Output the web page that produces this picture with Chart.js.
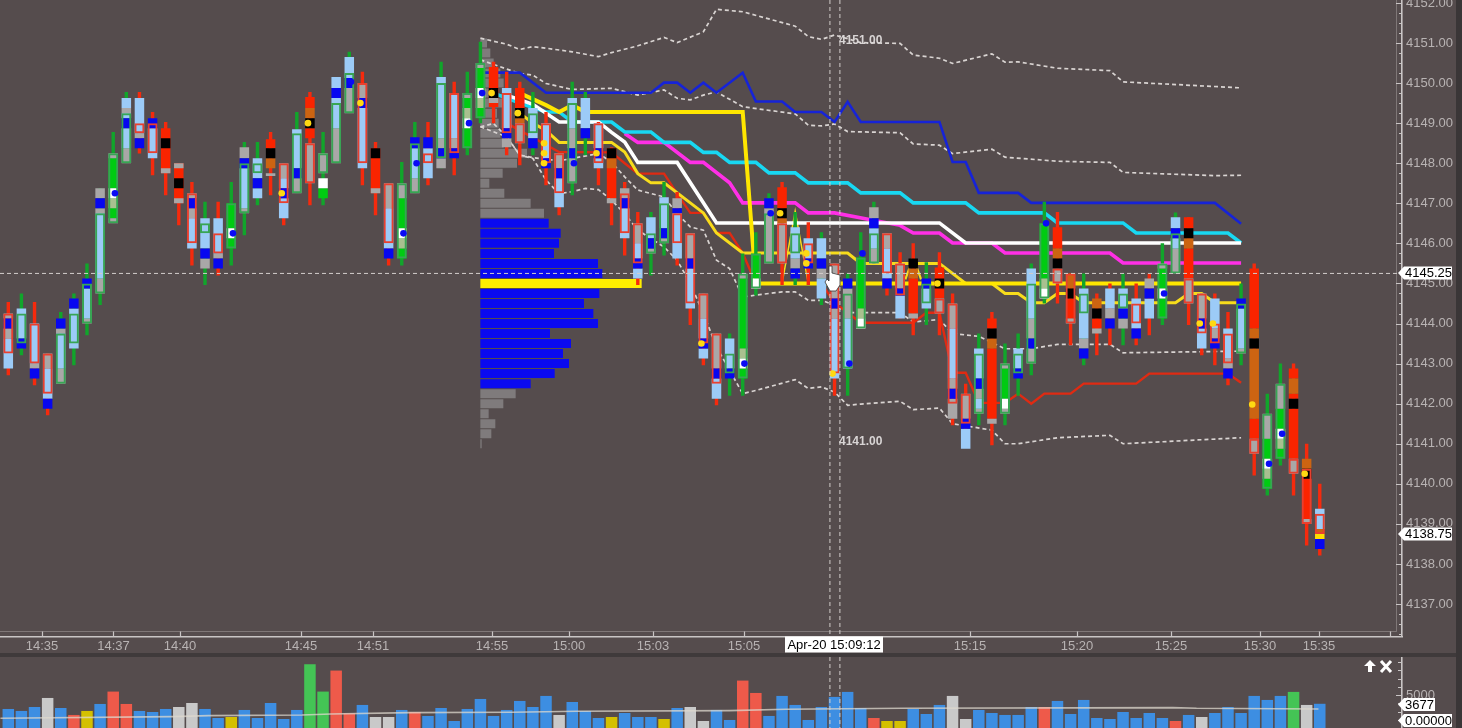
<!DOCTYPE html>
<html><head><meta charset="utf-8">
<style>
html,body{margin:0;padding:0;width:1462px;height:728px;overflow:hidden;background:#554c4d}
#p{position:absolute;left:0;top:0}
#v{position:absolute;left:0;top:657px}
#sep{position:absolute;left:0;top:653px;width:1462px;height:4px;background:#3f3a3b}
#edge{position:absolute;left:1456px;top:0;width:6px;height:728px;background:#3a3637}
</style>
<script src="https://cdn.jsdelivr.net/npm/chart.js@4"></script>
</head><body>
<canvas id="p" width="1462" height="653"></canvas>
<div id="sep"></div>
<canvas id="v" width="1462" height="71"></canvas>
<div id="edge"></div>
<script>
const priceTicks=[4137,4138,4139,4140,4141,4142,4143,4144,4145,4146,4147,4148,4149,4150,4151,4152];
const timeTickIndex=[2.57,8.02,13.09,22.32,27.81,36.88,42.75,49.16,56.1,73.33,81.49,88.65,95.44,99.94,105.36];
const timeTickLabels=['14:35','14:37','14:40','14:45','14:51','14:55','15:00','15:03','15:05','15:15','15:20','15:25','15:30','15:35',''];
const candleDir=('RGRRGGGGGG'+'RRRRRGRGGG'+'RRGRGGGRRR'+'GGRGRGGRRR'+'GRRGGRRRRG'+'GRRRRGGGGR'+'GRGRGGGRRR'+'GRRRGRGGGG'+'RRGRRGRRGG'+'RRRRGRGGRRR').split('');
const wickHigh=[4144.54,4144.75,4144.54,4143.25,4144.29,4144.75,4145.5,4147.375,4148.78,4149.78,
4149.78,4149.28,4149.03,4148,4147.53,4147.04,4147.04,4147.53,4148.53,4148.53,
4148.78,4148,4149.28,4149.78,4148.78,4150.15,4150.78,4150.28,4148.53,4147.5,
4148.03,4149.03,4149.03,4150.53,4150.03,4150.28,4151.03,4150.53,4150.28,4150.03,
4149.78,4149.28,4148.25,4150.03,4149.78,4149.03,4148.4,4147.53,4146.78,4146.78,
4147.53,4147.28,4146.25,4144.75,4143.75,4143.75,4145.75,4146.28,4147.25,4147.53,
4146.78,4146.53,4146.28,4145.5,4145.25,4146.28,4147.04,4146.25,4145.78,4146,
4145.53,4145.78,4144.75,4142.5,4143.75,4144.29,4143.5,4143.75,4145.5,4147.04,
4146.78,4145.25,4145.25,4144.75,4145,4145.25,4145,4145.25,4146,4146.77,
4146.65,4144.75,4144.75,4144.29,4145,4145.5,4142.25,4143,4143,4141,4140];
const wickLow=[4142.71,4143.21,4142.46,4141.71,4142.5,4142.96,4143.71,4144.46,4146.5,4148,
4148.24,4147.7,4147.2,4146.45,4145.45,4144.96,4145.2,4145.45,4146.2,4146.95,
4147.2,4146.45,4147.25,4146.95,4146.95,4148,4149.25,4147.45,4146.7,4145.45,
4145.45,4147.25,4147.45,4147.875,4147.7,4148.2,4149,4149,4148.2,4147.95,
4148.2,4147.45,4146.7,4147.2,4148.2,4147.45,4146.45,4145.7,4144.96,4145.2,
4145.7,4145.45,4143.96,4142.96,4141.96,4142.2,4142.2,4144.7,4145.5,4144.96,
4144.96,4144.96,4144.46,4142.2,4142.2,4143.875,4145.5,4144.7,4144.125,4143.71,
4143.96,4143.71,4141.46,4140.9,4141.46,4140.96,4141.46,4142.2,4142.71,4144.5,
4144.5,4143.46,4142.96,4143.21,4143.46,4143.46,4143.46,4143.71,4143.96,4145.25,
4143.96,4143.21,4142.96,4142.46,4142.96,4140.21,4139.71,4140.46,4139.71,4138.46,4138.21];
const lightBlueBlocks=[[0,4143.625,4142.875],[1,4144.375,4143.625],[2,4144,4143],[3,4142.875,4142.125],[4,4143.75,4142.875],[5,4144.375,4143.375],[6,4144.875,4144.125],[7,4146.75,4145.125],[9,4149.625,4149.375],[9,4149.25,4149.125],[9,4148.875,4148.375],[10,4149.625,4148.75],[11,4148.875,4148.125],[14,4146.625,4145.875],[15,4146.625,4145.875],[16,4146.625,4145.75],[18,4147.875,4146.875],[19,4148.125,4147.625],[19,4147.375,4147.125],[21,4147.625,4147.375],[21,4147.125,4146.625],[22,4148.85,4147.875],[25,4150.15,4149.875],[25,4149.625,4148.875],[26,4150.65,4150.125],[27,4149.375,4147.875],[29,4146.875,4145.875],[31,4148.375,4147.625],[32,4148.375,4147.625],[33,4150.15,4148.625],[34,4149.75,4148.625],[38,4149.875,4148.875],[40,4149.375,4148.625],[41,4149,4148.125],[42,4147.625,4146.9],[43,4149.625,4148.875],[44,4149.625,4148.875],[45,4149,4148.375],[45,4148.125,4147.875],[47,4146.875,4146.125],[48,4146,4145.625],[48,4145.375,4145.125],[49,4146.65,4146.125],[50,4147.15,4146.375],[51,4146.75,4145.625],[52,4145.375,4144.375],[53,4144.125,4143.625],[53,4143.375,4143.125],[54,4142.625,4142.125],[55,4143.625,4142.875],[60,4146.4,4145.625],[61,4146.125,4145.625],[62,4146.125,4145.625],[62,4145.125,4144.625],[63,4144.125,4142.625],[64,4144.125,4142.875],[66,4146.375,4145.875],[67,4145.875,4145.125],[68,4144.7,4144.125],[70,4144.875,4144.375],[72,4143.875,4142.625],[73,4141.375,4140.875],[74,4143.375,4142.625],[74,4142.125,4141.875],[77,4143.375,4142.875],[78,4145.375,4144.125],[82,4144.875,4143.625],[84,4144.875,4144.375],[85,4144.875,4144.375],[86,4144.625,4143.875],[87,4144.625,4144.125],[89,4146.65,4146.375],[89,4146.125,4145.875],[91,4143.875,4143.375],[92,4144.625,4143.875],[93,4143.875,4143.125],[94,4144.375,4143.375],[100,4139.375,4138.875]];
const grayBlocks=[[0,4144.25,4144.125],[0,4143.875,4143.625],[2,4143,4142.875],[3,4143.25,4142.875],[4,4143.875,4143.75],[4,4142.875,4142.5],[6,4144.125,4144],[7,4147.375,4147.125],[7,4146.875,4146.75],[7,4145.125,4144.75],[8,4148.25,4148.125],[8,4146.625,4146.5],[9,4149.375,4149.25],[9,4148.375,4148],[10,4148.75,4148.625],[12,4147.875,4147.75],[13,4148,4147.875],[13,4147.125,4147],[14,4147.25,4147.125],[14,4146.875,4146.625],[15,4145.625,4145.375],[16,4145.75,4145.625],[18,4148.4,4148.125],[18,4146.875,4146.75],[20,4147.75,4147.68],[21,4148,4147.625],[22,4147.625,4147.25],[23,4148.5,4147.5],[24,4148.25,4147.75],[25,4148.875,4148],[26,4149.875,4149.25],[27,4150,4149.625],[28,4147.375,4147.25],[29,4147.5,4146.875],[30,4147.5,4147.125],[31,4147.625,4147.25],[33,4148.625,4148.375],[33,4148.125,4147.875],[34,4148.625,4148.375],[35,4149.75,4149.625],[36,4150.5,4150.375],[37,4149.625,4149.5],[38,4148.625,4148.4],[39,4149,4148.5],[42,4148.25,4147.875],[43,4148.875,4148.375],[43,4148.125,4147.5],[46,4147.125,4147],[47,4147.375,4147.125],[48,4146.5,4146],[49,4145.875,4145.75],[50,4146.125,4146],[51,4147.125,4146.875],[52,4146.25,4145.625],[53,4144.75,4144.125],[54,4143.75,4142.875],[56,4145.25,4145.125],[58,4146.875,4145.5],[59,4146.5,4145.5],[60,4145.625,4145.375],[62,4145.375,4145.125],[63,4145.5,4144.625],[63,4144.375,4144.125],[64,4144.875,4144.125],[66,4146.9,4146.625],[66,4145.875,4145.5],[67,4146.25,4145.875],[68,4145.5,4144.875],[69,4144.25,4144.125],[71,4144.625,4144.25],[72,4144.5,4143.875],[72,4142.625,4142.375],[72,4142.125,4141.625],[73,4142.25,4141.625],[74,4142.375,4142.125],[74,4141.875,4141.75],[75,4141.625,4141.5],[76,4143,4142.875],[76,4141.875,4141.75],[78,4144.125,4143.625],[78,4143.375,4143],[80,4145.375,4145],[81,4144.125,4144],[82,4143.625,4143.375],[83,4143.875,4143.75],[84,4144.375,4144.125],[85,4144.125,4143.875],[87,4145.125,4144.875],[88,4145.5,4145.375],[89,4145.875,4145.25],[90,4145.125,4144.5],[91,4144.75,4144.125],[92,4143.875,4143.625],[93,4143.125,4142.875],[94,4143.375,4143.25],[95,4141.125,4140.75],[96,4141.75,4141.125],[97,4142.5,4141.875],[98,4140.625,4140.25],[99,4139.125,4139]];
const blueBlocks=[[0,4144.125,4143.875],[1,4143.625,4143.375],[2,4142.875,4142.625],[3,4142.125,4141.875],[4,4144.125,4143.875],[5,4144.625,4144.375],[6,4145.125,4144.875],[7,4147.125,4146.875],[9,4149.125,4148.875],[10,4148.625,4148.375],[11,4149.125,4148.875],[14,4147.125,4146.875],[15,4145.875,4145.625],[16,4145.625,4145.375],[18,4148.125,4147.875],[19,4147.625,4147.375],[21,4147.375,4147.125],[22,4147.875,4147.625],[25,4149.875,4149.625],[26,4150.125,4149.875],[27,4149.625,4149.375],[29,4145.875,4145.625],[31,4148.65,4148.375],[32,4148.65,4148.375],[33,4148.375,4148.125],[34,4148.375,4148.125],[38,4148.875,4148.625],[40,4148.625,4148.375],[41,4148.125,4147.875],[42,4147.875,4147.625],[43,4148.375,4148.125],[44,4148.875,4148.625],[45,4148.375,4148.125],[47,4147.125,4146.875],[48,4145.625,4145.375],[49,4146.125,4145.875],[50,4146.375,4146.125],[51,4146.875,4146.75],[52,4145.625,4145.375],[53,4143.625,4143.375],[54,4142.875,4142.625],[55,4142.875,4142.625],[58,4147.125,4146.875],[60,4145.375,4145.125],[61,4145.625,4145.375],[62,4145.625,4145.375],[63,4144.625,4144.375],[64,4145.125,4144.875],[66,4146.625,4146.375],[67,4145.125,4144.875],[68,4144.875,4144.7],[70,4145.125,4144.875],[72,4142.375,4142.125],[73,4141.625,4141.375],[74,4142.625,4142.375],[77,4142.875,4142.625],[78,4143.625,4143.375],[82,4143.375,4143.125],[84,4144.125,4143.875],[85,4144.375,4144.125],[86,4143.875,4143.625],[87,4144.875,4144.625],[89,4146.375,4146.125],[91,4144.125,4143.875],[92,4143.625,4143.375],[93,4142.875,4142.625],[94,4144.625,4144.375],[100,4138.625,4138.375]];
const blackBlocks=[[12,4148.625,4148.375],[13,4147.625,4147.375],[20,4148.375,4148.125],[23,4149.125,4148.875],[28,4148.375,4148.125],[37,4149.875,4149.625],[39,4149.375,4149.125],[46,4148.375,4148.125],[59,4146.875,4146.625],[69,4145.625,4145.375],[71,4145.125,4144.875],[75,4143.875,4143.625],[80,4145.625,4145.375],[81,4144.875,4144.625],[83,4144.375,4144.125],[90,4146.375,4146.125],[95,4143.625,4143.375],[98,4142.125,4141.875],[99,4140.375,4140.125]];
const greenBlocks=[[8,4148.125,4147.375],[8,4146.875,4146.625],[17,4147,4146.375],[17,4146.125,4145.875],[24,4147.375,4147.125],[30,4147.125,4146.375],[30,4145.875,4145.625],[35,4149.625,4149.375],[35,4148.875,4148.375],[36,4150.375,4149.875],[36,4149.375,4149.125],[56,4145.125,4143.375],[56,4142.875,4142.625],[57,4145.75,4145.125],[65,4145.65,4144.375],[76,4142.875,4142.125],[79,4146.5,4145.125],[88,4145.375,4144.875],[88,4144.625,4144.125],[96,4141.125,4140.625],[96,4140.125,4139.875],[97,4141.875,4141.375],[97,4140.875,4140.625]];
const redBlocks=[[12,4148.875,4147.75],[13,4148,4147],[20,4148.6,4148.375],[23,4149.65,4149.375],[23,4148.875,4148.625],[28,4148.375,4147.25],[37,4150.4,4149.4],[39,4149.875,4149.375],[46,4148.375,4147.125],[59,4147.4,4146.875],[69,4145.125,4144.25],[71,4145.4,4144.625],[75,4144.125,4143.875],[75,4143.375,4141.625],[80,4146.4,4145.875],[81,4144.625,4144.125],[83,4144.125,4143.875],[90,4146.65,4146.375],[90,4145.875,4145.125],[95,4145.375,4143.875],[95,4141.625,4141.125],[98,4142.875,4142.625],[98,4142.25,4142.125],[98,4141.875,4140.625],[99,4140.125,4139.125]];
const orangeBlocks=[[20,4148.125,4147.875],[23,4149.375,4149.125],[39,4149.125,4149],[46,4148.125,4147.875],[59,4146.625,4146.5],[69,4145.375,4145.125],[75,4143.625,4143.375],[80,4145.875,4145.625],[81,4145.25,4144.875],[83,4144.625,4144.375],[90,4146.125,4145.875],[95,4143.875,4143.625],[95,4143.375,4141.625],[98,4142.625,4142.25],[99,4140.625,4140.375],[100,4138.875,4138.75]];
const yellowBlocks=[[100,4138.75,4138.625]];
const whiteBlocks=[[8,4147.375,4147.125],[17,4146.375,4146.125],[24,4147.625,4147.375],[30,4146.375,4146.125],[35,4149.125,4148.875],[36,4149.875,4149.625],[56,4143.125,4142.875],[57,4145.125,4144.875],[65,4144.125,4143.875],[76,4142.125,4141.875],[79,4144.875,4144.625],[88,4144.875,4144.625],[96,4140.625,4140.375],[97,4141.375,4141.125]];
const tanBlocks=[[8,4147.125,4146.875],[30,4146.125,4145.875],[35,4149.375,4149.125],[36,4149.625,4149.375],[56,4143.375,4143.125],[65,4144.375,4144.125],[79,4145.125,4144.875],[96,4140.375,4140.125],[97,4141.125,4140.875]];
const bodyOutlines=[[0,4144.25,4143.25],[1,4144.25,4143.5],[2,4144,4143],[3,4143.25,4142.25],[4,4143.75,4142.5],[5,4144.25,4143.5],[6,4145,4144],[7,4146.75,4144.75],[8,4148.25,4146.5],[9,4149.25,4148],[10,4149,4148.75],[11,4149,4148.25],[14,4147.25,4146],[15,4146.5,4146.25],[16,4146.25,4145.75],[17,4147,4145.875],[18,4148,4146.75],[19,4148,4147.75],[21,4148,4147],[22,4148.75,4147.25],[23,4148.5,4147.5],[24,4148.25,4147.75],[25,4149.5,4148],[26,4150.25,4149.25],[27,4150,4148],[29,4147.5,4146],[30,4147.5,4145.625],[31,4148.5,4147.25],[32,4148.25,4148],[33,4150,4148.125],[34,4149.75,4148.25],[35,4149.75,4148.375],[36,4150.5,4149.125],[38,4149.75,4148.75],[39,4149,4148.5],[40,4149.25,4148.75],[41,4149,4148],[42,4148.25,4147.25],[43,4149.5,4147.5],[45,4149,4148],[47,4147.25,4146.25],[48,4146.5,4145.5],[49,4146.25,4145.75],[50,4147,4146],[51,4146.75,4146],[52,4146.25,4144.5],[53,4144.75,4143.5],[54,4143.75,4142.5],[55,4143.25,4142.75],[56,4145.25,4142.625],[57,4145.75,4144.875],[58,4146.75,4145.5],[59,4146.5,4145.5],[60,4146.25,4145.75],[61,4146,4145.5],[63,4145.5,4142.75],[64,4144.75,4142.875],[65,4145.65,4143.875],[66,4146.25,4145.5],[67,4146.25,4145.25],[68,4145.5,4144.7],[70,4145,4144.5],[71,4144.625,4144.25],[72,4144.5,4142],[73,4142.25,4141.5],[74,4143.25,4141.75],[76,4143,4141.75],[77,4143.25,4142.75],[78,4145,4143],[79,4146.5,4144.625],[80,4145.375,4145],[81,4145.25,4144],[82,4144.75,4144.25],[85,4144.75,4144.375],[86,4144.5,4144],[88,4145.5,4144.125],[89,4146.25,4145.25],[90,4145.125,4144.5],[91,4144.75,4143.75],[92,4144,4143.5],[93,4143.75,4143],[94,4144.5,4143.25],[95,4141.125,4140.75],[96,4141.75,4139.875],[97,4142.5,4140.625],[98,4140.625,4140.25],[99,4140.375,4139],[100,4139.25,4138.75]];
const blueDots=[[8,4147.25],[17,4146.25],[26,4150.03],[30,4146.25],[31,4148],[35,4149],[36,4149.75],[43,4148],[56,4143],[58,4146.75],[64,4143],[65,4145.75],[79,4146.5],[88,4144.75],[96,4140.5],[97,4141.25]];
const yellowDots=[[21,4147.25],[23,4149],[27,4149.5],[37,4149.75],[39,4149.25],[41,4148.5],[41,4148.25],[41,4148],[45,4148.25],[53,4143.5],[59,4146.75],[61,4145.75],[61,4145.5],[63,4142.75],[71,4145],[91,4144],[92,4144],[95,4141.98],[99,4140.25]];
const lineBlue=[[36.3,4150.26],[39,4150.26],[41,4149.76],[49,4149.76],[50,4150.01],[51,4150.01],[52,4149.76],[53,4150.01],[54,4149.76],[56,4150.26],[57,4149.54],[59,4149.54],[60,4149.28],[62,4149.28],[63,4149.03],[64,4149.53],[65,4149.03],[71,4149.03],[72,4148.03],[73,4148.03],[74,4147.26],[77,4147.26],[78,4147.01],[92,4147.01],[94,4146.49]];
const lineCyan=[[37,4149.75],[39,4149.5],[41,4149.28],[42,4149.28],[43,4149.03],[46,4149.03],[47,4148.78],[49,4148.78],[50,4148.52],[52,4148.52],[53,4148.27],[54,4148.27],[55,4148.02],[57,4148.02],[58,4147.76],[60,4147.76],[61,4147.51],[64,4147.51],[65,4147.26],[68,4147.26],[69,4147.01],[73,4147.01],[74,4146.76],[79,4146.76],[80,4146.51],[85,4146.51],[86,4146.26],[93,4146.26],[94,4146.01]];
const lineMagenta=[[47,4148.74],[48,4148.52],[50,4148.52],[52,4148.02],[53,4148.02],[55,4147.51],[56,4147.01],[60,4147.01],[61,4146.76],[63,4146.76],[68,4146.45],[69,4146.26],[71,4146.26],[72,4146.01],[75,4146.01],[76,4145.76],[84,4145.76],[85,4145.51],[94,4145.51]];
const lineWhite=[[38,4149.7],[40,4149.47],[42,4149.03],[45,4149.03],[46,4148.77],[47,4148.53],[48,4148.02],[51,4148.02],[54,4146.51],[71,4146.51],[73,4146.01],[94,4146.01]];
const linePivot=[[39,4149.75],[41,4149.45],[42,4149.28],[43,4149.45],[44,4149.28],[56,4149.28],[57,4145],[94,4145]];
const lineYellow=[[39,4149.25],[40,4149],[41,4148.82],[42,4148.52],[46,4148.52],[47,4148.28],[48,4147.74],[49,4147.51],[50,4147.51],[52,4147.01],[53,4146.76],[54,4146.26],[56,4145.76],[64,4145.76],[65,4145.5],[71,4145.5],[73,4145],[75,4145],[76,4144.75],[77,4144.75],[78,4144.52],[79,4144.52],[80,4144.75],[81,4144.75],[82,4144.52],[89,4144.52],[90,4144.75],[91,4144.75],[92,4144.52],[94,4144.52]];
const lineYellowSpike=[[59,4145],[60,4146.8],[61,4145]];
const lineYellowArc=[[68.4,4145.1],[69,4145.65],[69.6,4145.1]];
const lineRed=[[38,4149],[42,4148.28],[46,4148.27],[47,4148],[48,4147.74],[50,4147.74],[51,4147.24],[52,4146.76],[53,4146.76],[54,4146.26],[55,4146.26],[56,4145.76],[57,4145],[62,4145],[63,4144.52],[65,4144.02],[69,4144.02],[70,4144.27],[71,4144.27],[72,4142.77],[73,4142.77],[74,4142.02],[76,4142.02],[77,4142.25],[78,4142],[79,4142.25],[81,4142.25],[82,4142.5],[86,4142.5],[87,4142.75],[93,4142.75],[94,4142.52]];
const bandUpperOuter=[[36,4151.12],[38,4150.97],[39,4150.84],[40,4150.91],[41,4150.87],[43,4150.78],[45,4150.66],[46,4150.76],[48,4150.93],[50,4151.14],[51,4151.01],[53,4151.28],[54,4151.84],[56,4151.78],[60,4151.42],[61,4151.16],[62,4151.09],[63,4151.2],[65,4151.01],[68,4150.99],[69,4150.7],[71,4150.62],[72,4150.49],[75,4150.73],[76,4150.52],[77,4150.53],[80,4150.37],[84,4150.31],[85,4150.03],[94,4149.88]];
const bandUpperInner=[[36,4150.58],[38,4150.35],[39,4150.24],[40,4150.2],[41,4149.99],[43,4149.84],[46,4149.87],[48,4149.7],[50,4149.83],[51,4149.62],[52,4149.58],[53,4149.7],[54,4149.78],[56,4149.41],[60,4149.23],[61,4148.95],[62,4148.93],[63,4148.98],[64,4148.79],[68,4148.76],[69,4148.48],[71,4148.45],[72,4148.24],[75,4148.35],[76,4148.15],[80,4148.05],[84,4148.02],[85,4147.77],[92,4147.69],[94,4147.7]];
const bandLowerInner=[[36,4148.91],[37,4148.99],[38,4148.66],[39,4148.2],[40,4148.14],[42,4148.06],[43,4148.12],[45,4148.24],[46,4148.03],[47,4147.66],[48,4147.33],[50,4147.16],[51,4146.74],[52,4146.41],[53,4146.33],[54,4145.58],[55,4145.37],[56,4144.66],[57,4144.71],[59,4144.79],[60,4144.79],[61,4144.58],[62,4144.58],[63,4144.46],[64,4144.27],[68,4144.27],[69,4144.04],[71,4144.1],[72,4143.75],[74,4143.68],[76,4143.37],[78,4143.37],[80,4143.48],[84,4143.48],[85,4143.27],[94,4143.31]];
const bandLowerOuter=[[36,4148.91],[38,4148.66],[39,4148.2],[40,4148.12],[41,4147.58],[42,4147.24],[43,4147.29],[44,4147.37],[45,4147.34],[46,4147.08],[47,4146.74],[48,4146.33],[49,4146.12],[50,4145.91],[51,4145.58],[52,4145],[53,4144.25],[54,4143.42],[55,4142.83],[56,4142.25],[57,4142.33],[60,4142.6],[61,4142.38],[62,4142.42],[63,4142.29],[64,4141.96],[65,4141.99],[68,4142.06],[69,4141.85],[71,4141.89],[72,4141.5],[75,4141.34],[76,4141],[77,4141],[80,4141.15],[84,4141.21],[85,4141],[94,4141.15]];
const profileGray=[[4151,20],[4150.75,30],[4150.5,40],[4150.25,60],[4150,70],[4149.75,55],[4149.5,65],[4149.25,50],[4149,55],[4148.75,60],[4148.5,70],[4148.25,140],[4148,110],[4147.75,67],[4147.5,27],[4147.25,72],[4147,151],[4146.75,191],[4142.25,106],[4142,69],[4141.75,25],[4141.5,45],[4141.25,33],[4141,4]];
const profileBlue=[[4146.5,205],[4146.25,241],[4146,236],[4145.75,221],[4145.5,353],[4145.25,366],[4144.75,357],[4144.5,311],[4144.25,339],[4144,353],[4143.75,209],[4143.5,272],[4143.25,248],[4143,266],[4142.75,223],[4142.5,151]];
const profilePoc=[[4145,484]];
const volumes=[2890,2590,3190,4560,3040,1980,2590,3650,5530,3650,2590,2430,2890,3190,3800,2890,1520,1670,2740,1520,3800,1370,2740,9680,5530,8720,2230,3500,1670,1670,2740,2430,1830,3040,1060,2890,4410,1830,2740,4110,3190,4870,1980,3950,2590,1520,1670,2280,1670,1670,1370,3040,3190,1060,2740,1220,7200,5320,1830,4870,3500,1220,3190,4720,5480,3040,1520,1060,1060,2890,2130,3500,4870,1370,2740,2280,1980,1980,3190,3190,4110,2130,4260,1520,1370,2430,1520,2280,1520,1060,1980,1670,2280,3190,2280,4870,4260,4870,5480,3500,3677];
const volumeKind=('BBBGBRYBRR'+'BBBGGBBYBB'+'BBBLLRRBGG'+'BRBBBBBBBB'+'BBGBBBYBBB'+'YBGGBBRRBB'+'BBBBBBRYYB'+'BBGGBBBBBR'+'BBBBBBBBBR'+'BGBBBBBBLGB').split('');
const volumeAverage=[[-0.6,1470],[12.5,1720],[15.3,1880],[22.4,1980],[24.6,2130],[30.6,2330],[38.4,2380],[43.4,2540],[55,2640],[59.3,2840],[68.2,2990],[88.8,3090],[90.6,2990],[99.9,2890]];
const crossIndex=[62.65,63.41];
const crossPrice=4145.25, lastPrice=4138.75, lastVolume=3677;

const LF='"Liberation Sans", Arial, sans-serif';
const xMin=-0.633,xMax=106.27;
const noPad=s=>{s.paddingTop=0;s.paddingBottom=0;s.paddingLeft=0;s.paddingRight=0;};
const block=(list,color,order,w)=>({type:'bar',label:'',data:list.map(r=>({x:r[0],y:[r[2],r[1]]})),backgroundColor:color,borderWidth:0,barThickness:w||9.5,grouped:false,inflateAmount:0,order});
const path=(list,color,width,order,dash)=>({type:'line',label:'',data:list.map(r=>({x:r[0],y:r[1]})),borderColor:color,borderWidth:width,borderDash:dash||[],pointRadius:0,tension:0,fill:false,order,borderJoinStyle:'miter'});
const dots=(list,color,dx)=>({type:'line',label:'',data:list.map(r=>({x:r[0]+dx,y:r[1]})),showLine:false,pointRadius:3.3,pointBackgroundColor:color,pointBorderWidth:0,order:1});
const prof=(list,color)=>({type:'bar',label:'',indexAxis:'y',xAxisID:'xp',data:list.map(r=>({y:r[0],x:r[1]})),backgroundColor:color,borderWidth:0,barThickness:9,grouped:false,inflateAmount:0,order:100});

const RED='#f52a0d',GRN='#11a52b';
const dsPrice=[
 prof(profileGray,'#7f7b7c'),prof(profileBlue,'#0a0af0'),prof(profilePoc,'#ffee00'),
 path(bandUpperOuter,'#d9d4d2',1.7,90,[4,3]),path(bandUpperInner,'#d9d4d2',1.7,90,[4,3]),
 path(bandLowerInner,'#d9d4d2',1.7,90,[4,3]),path(bandLowerOuter,'#d9d4d2',1.7,90,[4,3]),
 path(lineRed,'#e02a12',2.4,80),path(lineYellowSpike,'#f7dc1c',1.5,79),path(lineYellowArc,'#f7dc1c',2.2,79),
 path(lineYellow,'#f7dc1c',3,78),path(lineMagenta,'#ff2fe6',3.6,77),path(lineCyan,'#18d8f2',3.6,76),
 path(lineBlue,'#1623d8',2.6,75),path(lineWhite,'#ffffff',3.6,74),path(linePivot,'#ffe600',4,73),
 {type:'bar',label:'',data:wickHigh.map((h,i)=>({x:i,y:[wickLow[i],h]})),backgroundColor:c=>candleDir[c.dataIndex]==='R'?RED:GRN,borderWidth:0,barThickness:3.4,grouped:false,inflateAmount:0,order:50},
 block(redBlocks,'#fa2400',45),block(greenBlocks,'#00cb12',45),block(orangeBlocks,'#cc6412',44),
 block(lightBlueBlocks,'#9ccbf7',43),block(grayBlocks,'#a9a7a7',43),block(blueBlocks,'#0707f0',42),
 block(blackBlocks,'#000000',42),block(whiteBlocks,'#ffffff',42),block(tanBlocks,'#a9c08f',42),block(yellowBlocks,'#ffdd00',42),
 {type:'bar',label:'',data:bodyOutlines.map(r=>({x:r[0],y:[r[2],r[1]]})),backgroundColor:'rgba(0,0,0,0)',borderColor:c=>candleDir[bodyOutlines[c.dataIndex][0]]==='R'?'#e8402f':'#38a554',borderWidth:2,borderSkipped:false,barThickness:10,grouped:false,inflateAmount:0,order:30},
 dots(blueDots,'#0a0af5',0.13),dots(yellowDots,'#ffd912',-0.15)
];

function tag(ctx,text,x,y,w){
  ctx.save();ctx.fillStyle='#fff';ctx.beginPath();ctx.moveTo(x,y);ctx.lineTo(x+6,y-6.5);ctx.lineTo(x+w,y-6.5);ctx.lineTo(x+w,y+6.5);ctx.lineTo(x+6,y+6.5);ctx.closePath();ctx.fill();
  ctx.fillStyle='#000';ctx.font='13px '+LF;ctx.textBaseline='middle';ctx.textAlign='left';ctx.fillText(text,x+7,y+.5);ctx.restore();
}
const priceOverlay={id:'priceOverlay',afterDraw(c){
  const ctx=c.ctx,x=c.scales.x,y=c.scales.y,a=c.chartArea;
  ctx.save();
  ctx.strokeStyle='rgba(225,220,220,.3)';ctx.lineWidth=1;ctx.beginPath();ctx.moveTo(0,631.5);ctx.lineTo(1396.5,631.5);ctx.lineTo(1396.5,0);ctx.stroke();
  ctx.strokeStyle='#c9c5c5';ctx.lineWidth=1.2;ctx.beginPath();
  for(let p=4136.25;p<=4152;p+=.25){const py=Math.round(y.getPixelForValue(p))+.5;const maj=Number.isInteger(p);ctx.moveTo(maj?1396:1399,py);ctx.lineTo(1402,py);}
  timeTickIndex.forEach(t=>{const px=Math.round(x.getPixelForValue(t))+.5;ctx.moveTo(px,631.5);ctx.lineTo(px,637);});
  ctx.stroke();
  ctx.strokeStyle='#d3cecc';ctx.lineWidth=1;ctx.setLineDash([4,3]);ctx.beginPath();
  const hy=y.getPixelForValue(crossPrice);ctx.moveTo(0,hy);ctx.lineTo(1400,hy);
  crossIndex.forEach(t=>{const px=x.getPixelForValue(t);ctx.moveTo(px,0);ctx.lineTo(px,636);});ctx.stroke();ctx.setLineDash([]);
  ctx.fillStyle='#d8d4d4';ctx.font='bold 12px '+LF;ctx.textAlign='left';ctx.textBaseline='middle';
  ctx.fillText('4151.00',839,y.getPixelForValue(4151.05));ctx.fillText('4141.00',839,y.getPixelForValue(4141.04));
  /* hand cursor */
  ctx.fillStyle='#fff';ctx.strokeStyle='#333';ctx.lineWidth=.8;ctx.beginPath();
  ctx.moveTo(829,266);ctx.lineTo(832,266);ctx.lineTo(832,273);ctx.lineTo(840,275);ctx.lineTo(840,285);ctx.lineTo(836,291);ctx.lineTo(830,291);ctx.lineTo(825,282);ctx.lineTo(827,279);ctx.lineTo(829,281);ctx.closePath();ctx.fill();ctx.stroke();
  /* tags */
  tag(ctx,'4145.25',1398,y.getPixelForValue(crossPrice)-.5,54);
  tag(ctx,'4138.75',1398,y.getPixelForValue(lastPrice),54);
  ctx.fillStyle='#fff';ctx.fillRect(785,636.5,98,16);ctx.fillStyle='#000';ctx.font='13px '+LF;ctx.textAlign='center';ctx.textBaseline='middle';ctx.fillText('Apr-20 15:09:12',834,645);
  ctx.restore();
}};
new Chart(document.getElementById('p'),{type:'bar',data:{datasets:dsPrice},plugins:[priceOverlay],options:{
 responsive:false,animation:false,events:[],layout:{padding:0,autoPadding:false},
 plugins:{legend:{display:false},tooltip:{enabled:false},title:{display:false}},
 scales:{
  x:{type:'linear',bounds:'data',min:xMin,max:xMax,offset:false,position:'bottom',grid:{display:false,offset:false,drawTicks:false},border:{display:true,color:'#c9c5c5',width:1.6},
     afterBuildTicks:s=>{s.ticks=timeTickIndex.map(v=>({value:v}));},afterFit:s=>{s.height=16.5;noPad(s);},
     ticks:{autoSkip:false,maxRotation:0,includeBounds:false,padding:2,color:'#b8b3b3',font:{family:'"Liberation Sans"',size:13},callback:v=>{const k=timeTickIndex.indexOf(v);return k<0?'':timeTickLabels[k];}}},
  xp:{type:'linear',bounds:'data',axis:'x',display:false,min:-1441,max:2765,offset:false,grid:{display:false,offset:false}},
  y:{type:'linear',bounds:'data',position:'right',min:4136.19,max:4152.073,offset:false,grid:{display:false,drawTicks:false,offset:false},border:{display:true,color:'#c9c5c5',width:1.6},
     afterBuildTicks:s=>{s.ticks=priceTicks.map(v=>({value:v}));},afterFit:s=>{s.width=60;noPad(s);},
     ticks:{autoSkip:false,includeBounds:false,padding:4,color:'#b8b3b3',font:{family:'"Liberation Sans"',size:13},callback:v=>v.toFixed(2)}}
 }}});

const volColors={B:'#3d8ee2',L:'#c9c9c9',G:'#c9c9c9',R:'#ee5a4a',Y:'#d4c000'};
const volumeGreenBars=[23,24,98];
const volOverlay={id:'volOverlay',afterDraw(c){
  const ctx=c.ctx,x=c.scales.x,y=c.scales.y;
  ctx.save();
  ctx.strokeStyle='#c9c5c5';ctx.lineWidth=1.2;ctx.beginPath();
  [1250,2500,3750,5000,6250,7500,8750,10000].forEach(v=>{const py=Math.round(y.getPixelForValue(v))+.5;ctx.moveTo(v===5000?1396:1398,py);ctx.lineTo(1402,py);});ctx.stroke();
  ctx.strokeStyle='#d3cecc';ctx.lineWidth=1;ctx.setLineDash([4,3]);ctx.beginPath();
  crossIndex.forEach(t=>{const px=x.getPixelForValue(t);ctx.moveTo(px,0);ctx.lineTo(px,71);});ctx.stroke();ctx.setLineDash([]);
  /* up arrow and close mark */
  ctx.fillStyle='#fff';ctx.beginPath();ctx.moveTo(1370,3);ctx.lineTo(1376,9);ctx.lineTo(1372,9);ctx.lineTo(1372,15);ctx.lineTo(1368,15);ctx.lineTo(1368,9);ctx.lineTo(1364,9);ctx.closePath();ctx.fill();
  ctx.strokeStyle='#fff';ctx.lineWidth=3;ctx.beginPath();ctx.moveTo(1381,4);ctx.lineTo(1391,15);ctx.moveTo(1391,4);ctx.lineTo(1381,15);ctx.stroke();
  tag(ctx,String(lastVolume),1398,47.5,37);
  tag(ctx,'0.00000',1398,63.5,54);
  ctx.restore();
}};
new Chart(document.getElementById('v'),{type:'bar',plugins:[volOverlay],data:{datasets:[
  path(volumeAverage,'rgba(222,216,205,.75)',1.6,1),
  {type:'bar',label:'',data:volumes.map((v,i)=>({x:i,y:v})),backgroundColor:c=>volumeGreenBars.includes(c.dataIndex)?'#44c455':volColors[volumeKind[c.dataIndex]],borderWidth:0,barThickness:11.5,grouped:false,inflateAmount:0,order:5}
 ]},options:{
 responsive:false,animation:false,events:[],layout:{padding:0,autoPadding:false},
 plugins:{legend:{display:false},tooltip:{enabled:false},title:{display:false}},
 scales:{
  x:{type:'linear',bounds:'data',display:false,min:xMin,max:xMax,offset:false,grid:{display:false,offset:false}},
  y:{type:'linear',bounds:'data',position:'right',min:0,max:10780,grid:{display:false,drawTicks:false},border:{display:true,color:'#c9c5c5',width:1.6},
     afterBuildTicks:s=>{s.ticks=[{value:5000}];},afterFit:s=>{s.width=60;noPad(s);},
     ticks:{autoSkip:false,includeBounds:false,padding:4,color:'#b8b3b3',font:{family:'"Liberation Sans"',size:13},callback:v=>String(v)}}
 }}});
</script>
</body></html>
